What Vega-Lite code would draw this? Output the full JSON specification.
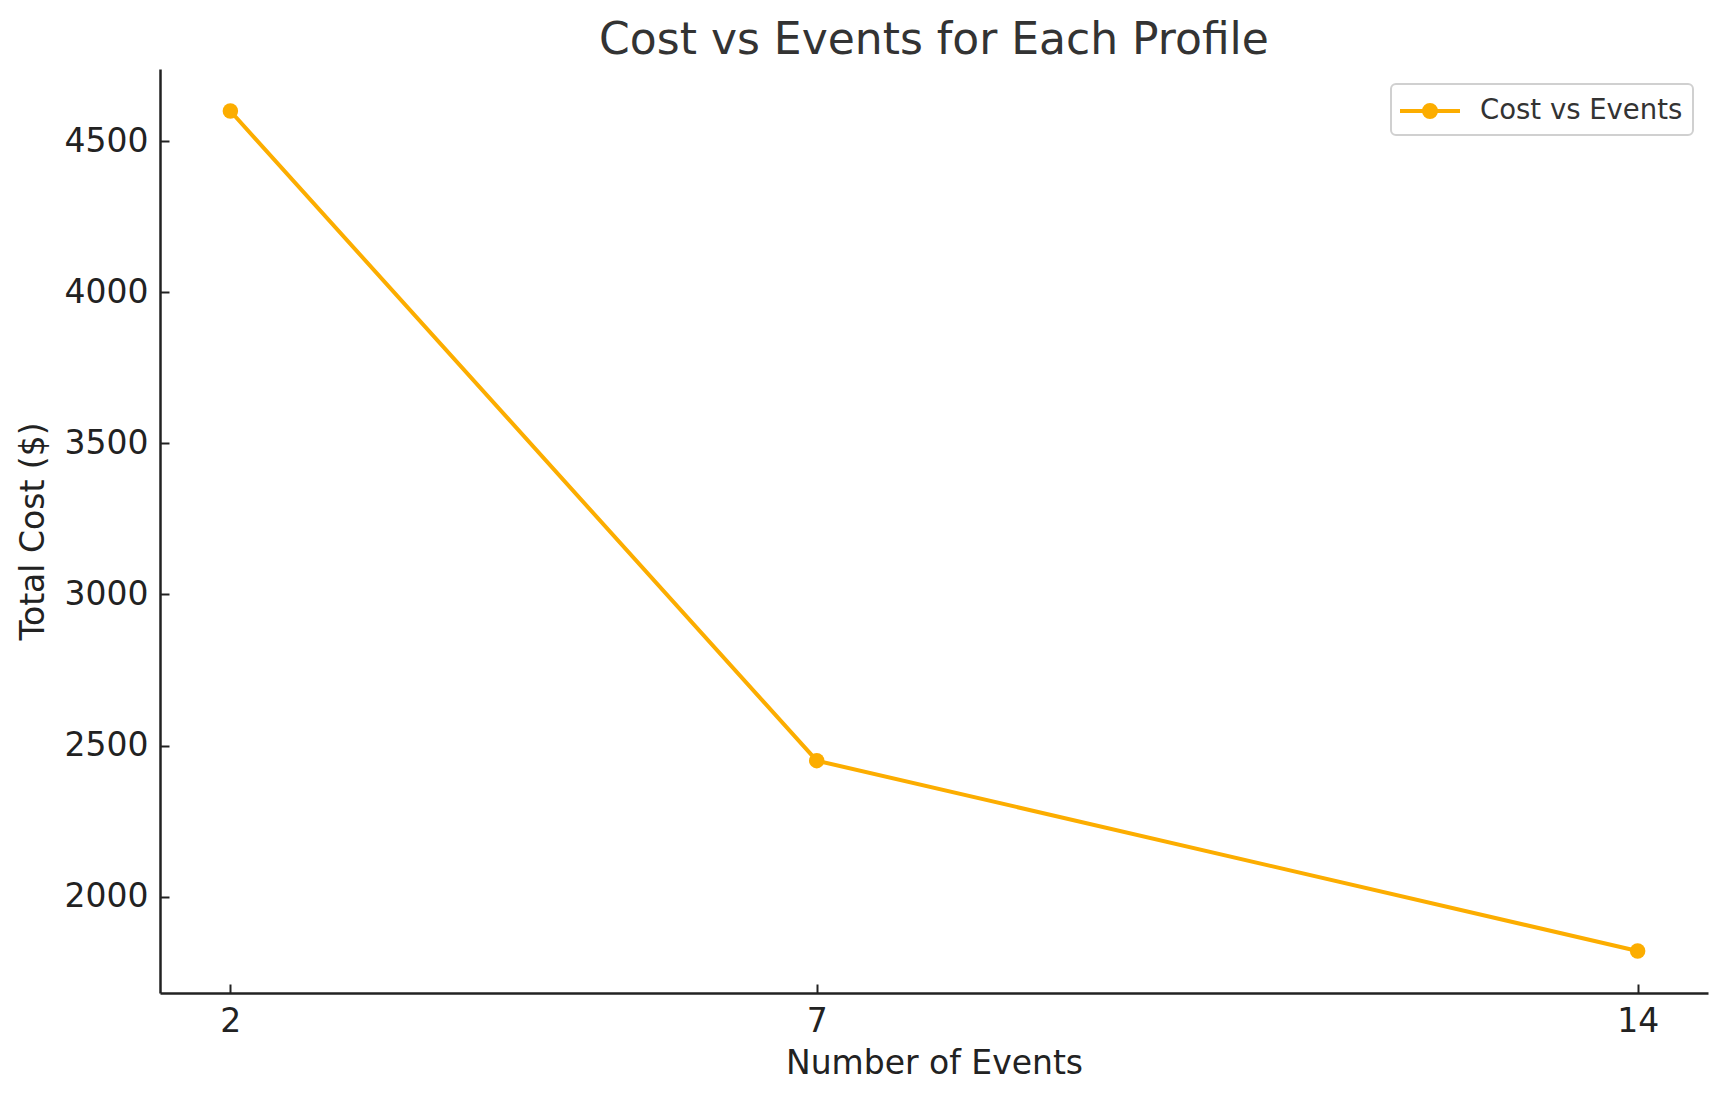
{
  "$schema": "https://vega.github.io/schema/vega-lite/v6.json",
  "autosize": {"type": "none"},
  "width": 1548,
  "height": 924,
  "padding": {"left": 160, "top": 69, "right": 20, "bottom": 108},
  "background": "white",
  "title": {
    "text": "Cost vs Events for Each Profile",
    "font": "DejaVu Sans",
    "fontSize": 44,
    "fontWeight": "normal",
    "color": "#333333",
    "anchor": "middle",
    "baseline": "alphabetic",
    "offset": -29
  },
  "data": {
    "values": [
      {"events": 2, "cost": 4600, "series": "Cost vs Events"},
      {"events": 7, "cost": 2450, "series": "Cost vs Events"},
      {"events": 14, "cost": 1820, "series": "Cost vs Events"}
    ]
  },
  "encoding": {
    "x": {
      "field": "events",
      "type": "quantitative",
      "title": "Number of Events",
      "scale": {"domain": [1.4, 14.6], "nice": false, "zero": false},
      "axis": {"values": [2, 7, 14], "format": "d", "labelPadding": 21, "titlePadding": 9}
    },
    "y": {
      "field": "cost",
      "type": "quantitative",
      "title": "Total Cost ($)",
      "scale": {"domain": [1681, 4739], "nice": false, "zero": false},
      "axis": {"values": [2000, 2500, 3000, 3500, 4000, 4500], "format": "d", "labelPadding": 21, "titlePadding": 14}
    },
    "color": {
      "field": "series",
      "type": "nominal",
      "scale": {"range": ["#FCAD00"]},
      "legend": {
        "title": null,
        "orient": "none",
        "legendX": 1231,
        "legendY": 15,
        "padding": 10,
        "strokeColor": "#d0d0d0",
        "cornerRadius": 5,
        "fillColor": "white",
        "symbolType": "M-2,0H2M-0.4,0A0.4,0.4 0 1,0 0.4,0A0.4,0.4 0 1,0 -0.4,0Z",
        "symbolSize": 900,
        "symbolOffset": 12,
        "labelFont": "DejaVu Sans",
        "labelFontSize": 27.5,
        "labelColor": "#333333",
        "labelOffset": 33,
        "labelLimit": 400,
        "encode": {
          "legend": {
            "update": {"strokeWidth": {"value": 2}}
          },
          "symbols": {
            "update": {
              "fill": {"value": "#FCAD00"},
              "stroke": {"value": "#FCAD00"},
              "strokeWidth": {"value": 4},
              "opacity": {"value": 1}
            }
          }
        }
      }
    }
  },
  "layer": [
    {"mark": {"type": "line", "strokeWidth": 4}},
    {"mark": {"type": "point", "filled": true, "size": 240, "opacity": 1}}
  ],
  "config": {
    "view": {"stroke": null},
    "axis": {
      "grid": false,
      "domainColor": "#222222",
      "domainWidth": 2.5,
      "tickColor": "#222222",
      "tickWidth": 2,
      "tickSize": -9,
      "labelFont": "DejaVu Sans",
      "labelFontSize": 33,
      "labelColor": "#222222",
      "titleFont": "DejaVu Sans",
      "titleFontSize": 33,
      "titleFontWeight": "normal",
      "titleColor": "#222222"
    }
  }
}
